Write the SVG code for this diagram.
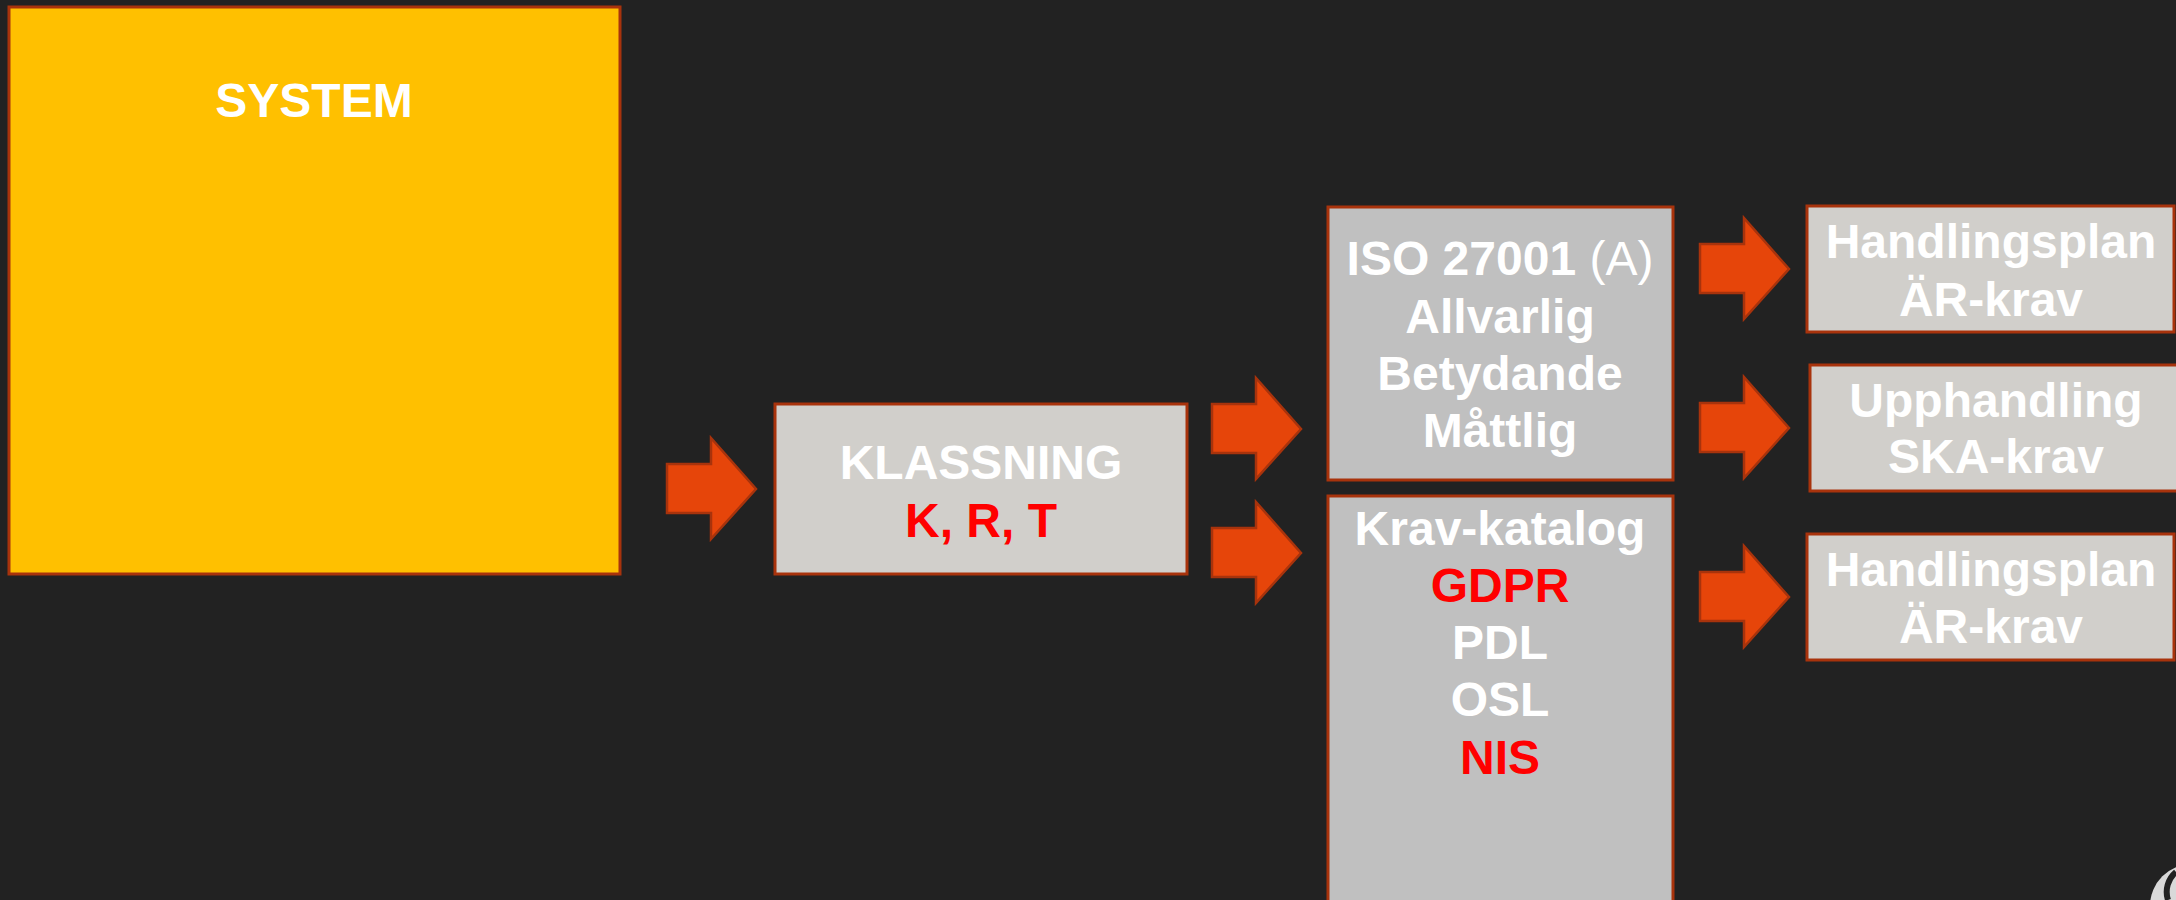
<svg xmlns="http://www.w3.org/2000/svg" width="2176" height="900" viewBox="0 0 2176 900">
<defs>
<style>
.box{stroke:#A8330C;stroke-width:3}
.sys{fill:#FFC000}
.lt{fill:#D1CFCB}
.md{fill:#C0C0C0}
.arrow{fill:#E6450A;stroke:#A8330C;stroke-width:2.5;stroke-linejoin:miter}
text{font-family:"Liberation Sans",Arial,sans-serif;font-size:48px;font-weight:bold;fill:#FFFFFF;text-anchor:middle}
.red{fill:#FF0000}
.reg{font-weight:normal}
</style>
<path id="arr" d="M0,26 H44 V0 L89,51 L44,101 V75 H0 Z"/>
</defs>
<rect width="2176" height="900" fill="#222222"/>

<g id="connectors">
<use href="#arr" class="arrow" transform="translate(667,438)"/>
<use href="#arr" class="arrow" transform="translate(1212,378)"/>
<use href="#arr" class="arrow" transform="translate(1212,502)"/>
<use href="#arr" class="arrow" transform="translate(1700,218)"/>
<use href="#arr" class="arrow" transform="translate(1700,377)"/>
<use href="#arr" class="arrow" transform="translate(1700,546)"/>
</g>

<g id="system">
<rect class="box sys" x="9" y="7" width="611" height="567"/>
<text x="314" y="117">SYSTEM</text>
</g>

<g id="klassning">
<rect class="box lt" x="775" y="404" width="412" height="170"/>
<text x="981" y="479">KLASSNING</text>
<text class="red" x="981" y="537">K, R, T</text>
</g>

<g id="iso">
<rect class="box md" x="1328" y="207" width="345" height="273"/>
<text x="1500" y="275">ISO 27001 <tspan class="reg">(A)</tspan></text>
<text x="1500" y="333">Allvarlig</text>
<text x="1500" y="390">Betydande</text>
<text x="1500" y="447">Måttlig</text>
</g>

<g id="kravkatalog">
<rect class="box md" x="1328" y="496" width="345" height="420"/>
<text x="1500" y="545">Krav-katalog</text>
<text class="red" x="1500" y="602">GDPR</text>
<text x="1500" y="659">PDL</text>
<text x="1500" y="716">OSL</text>
<text class="red" x="1500" y="774">NIS</text>
</g>

<g id="handlingsplan1">
<rect class="box lt" x="1807" y="206" width="367" height="126"/>
<text x="1991" y="258">Handlingsplan</text>
<text x="1991" y="316">ÄR-krav</text>
</g>

<g id="upphandling">
<rect class="box lt" x="1810" y="365" width="372" height="126"/>
<text x="1996" y="417">Upphandling</text>
<text x="1996" y="473">SKA-krav</text>
</g>

<g id="handlingsplan2">
<rect class="box lt" x="1807" y="534" width="367" height="126"/>
<text x="1991" y="586">Handlingsplan</text>
<text x="1991" y="643">ÄR-krav</text>
</g>

<g id="logo">
<circle cx="2192" cy="906" r="42" fill="#D9D9D9"/>
<path d="M2176,872 A26,26 0 0 0 2168,900" fill="none" stroke="#222222" stroke-width="6"/>
</g>
</svg>
